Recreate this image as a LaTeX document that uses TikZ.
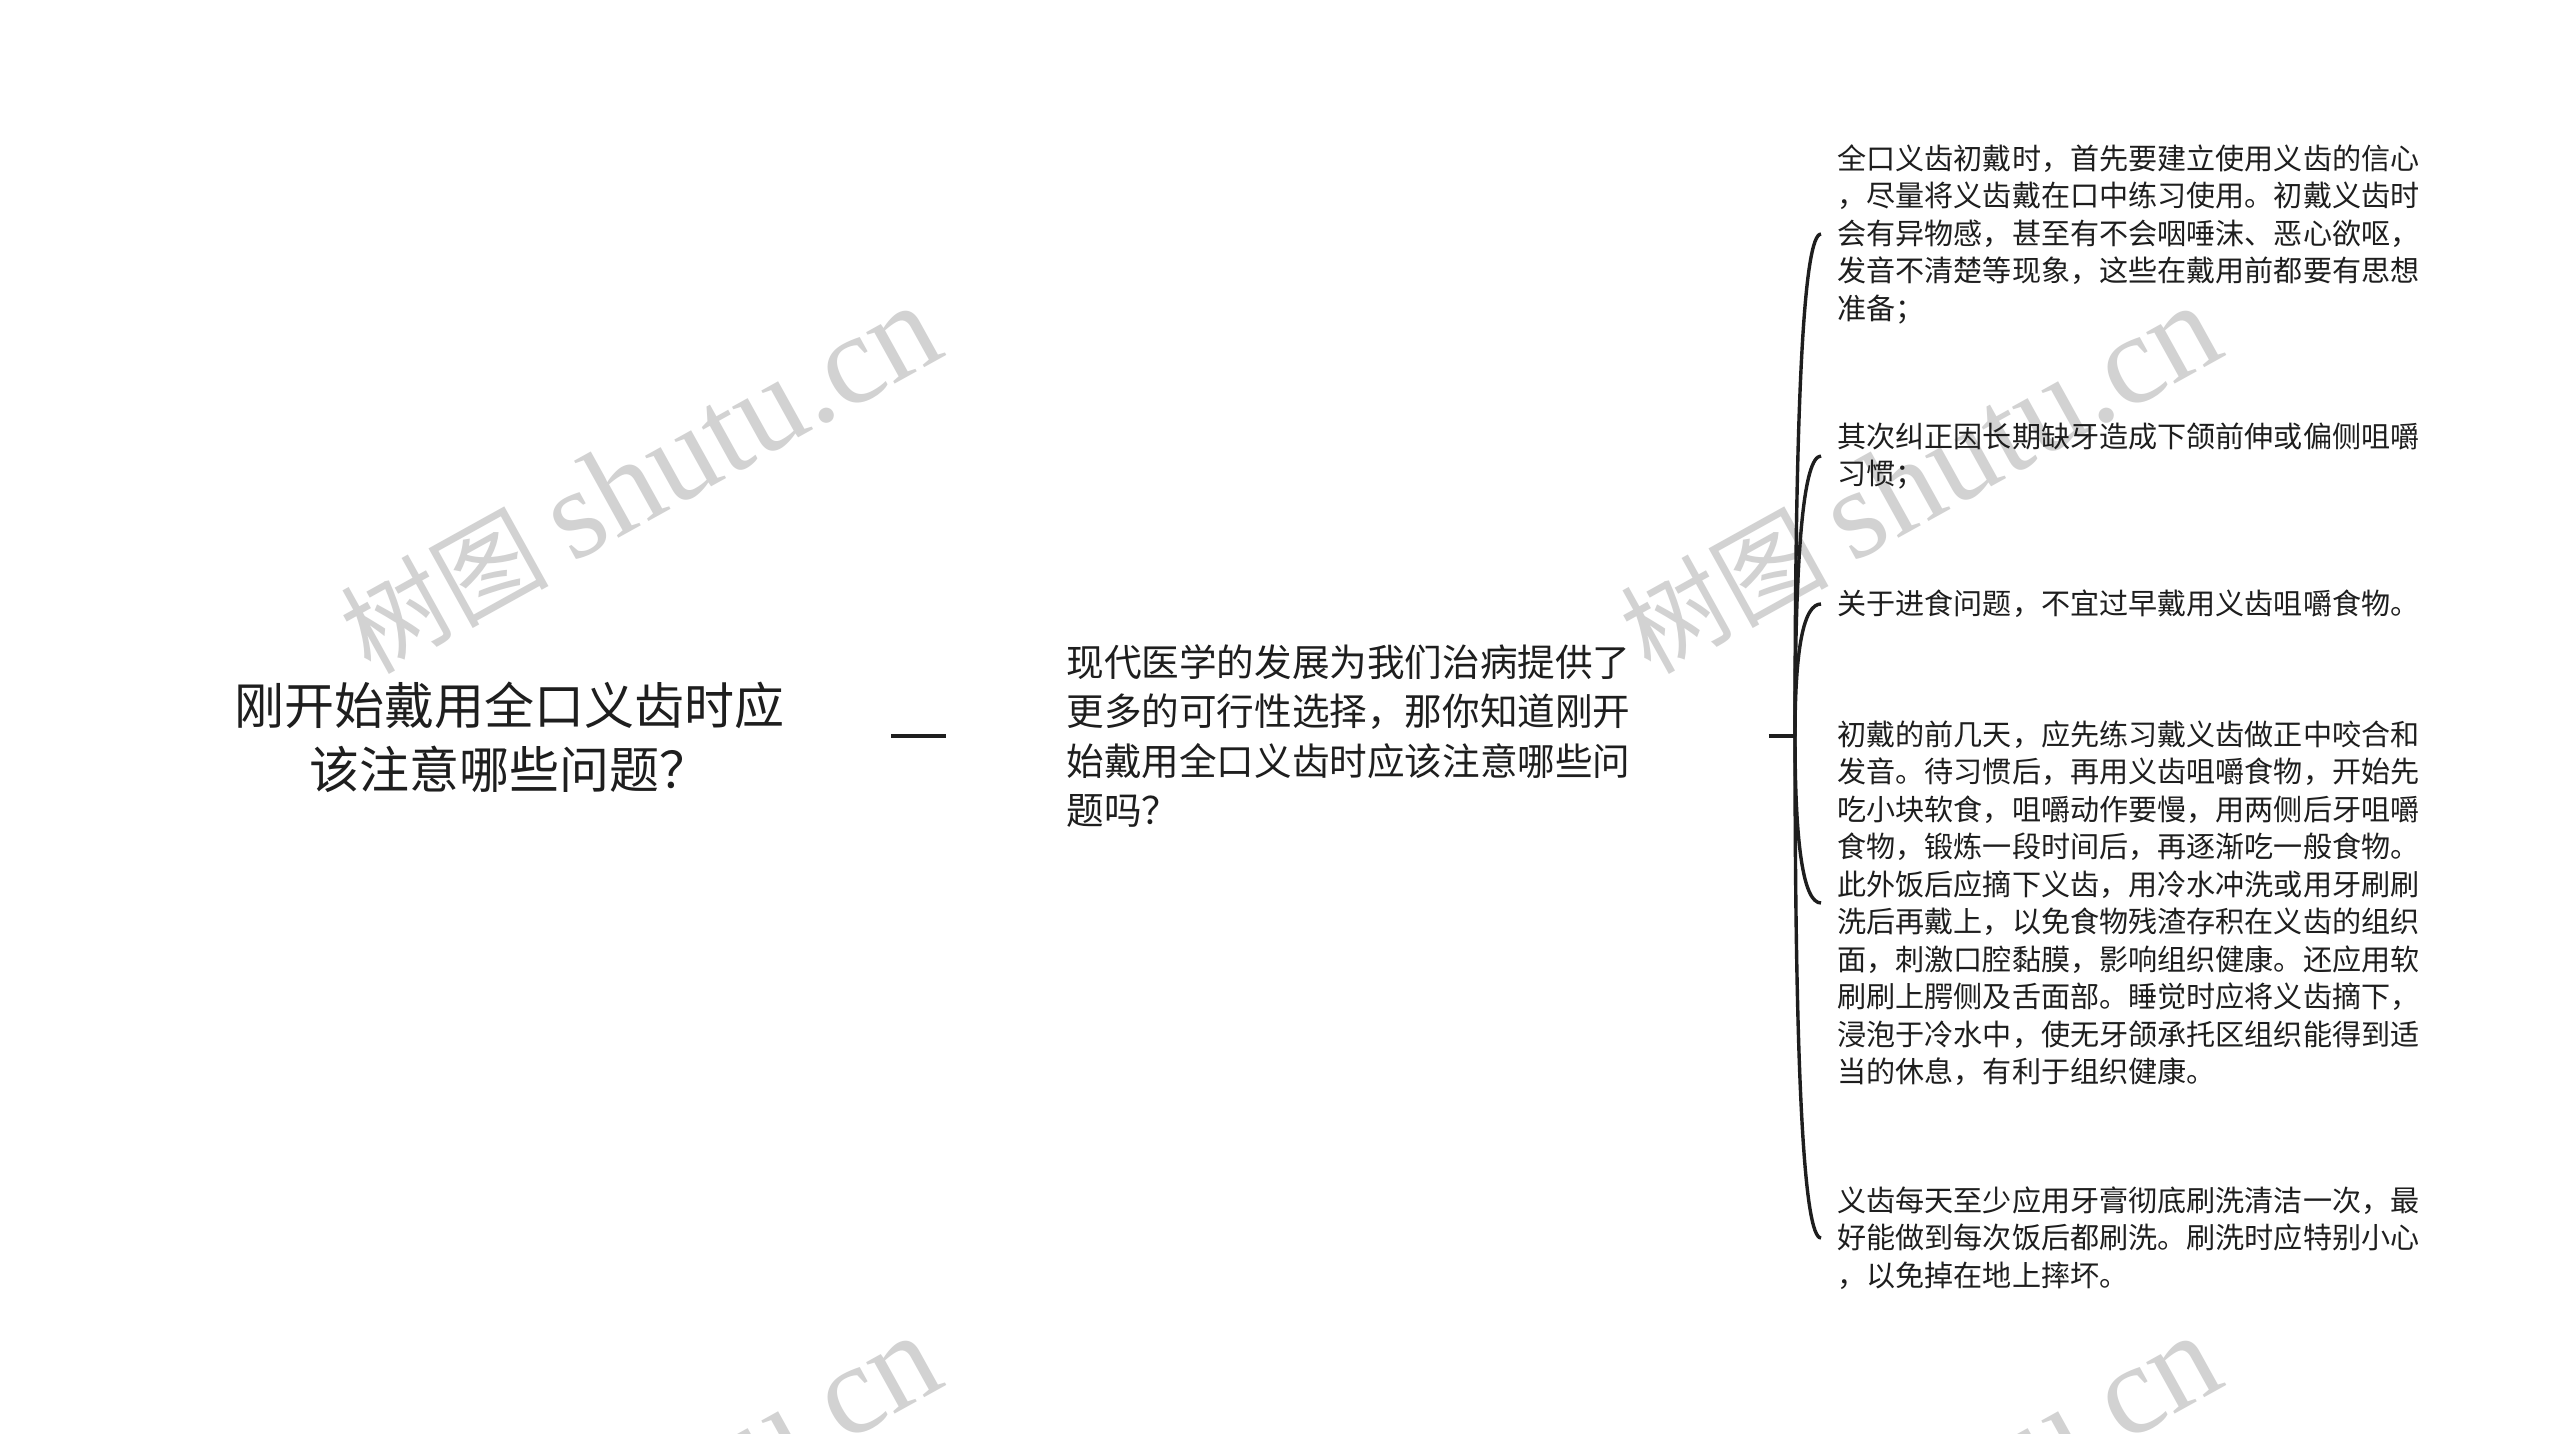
\documentclass[tikz,border=0pt]{standalone}
\usepackage{fontspec}
\setmainfont{Noto Sans CJK SC}
\newfontfamily\wmlatin{Liberation Serif}
\newfontfamily\wmcjk{Noto Sans CJK SC}
\usetikzlibrary{calc}
\definecolor{ink}{RGB}{30,30,30}
\definecolor{wm}{RGB}{210,210,210}
\begin{document}
\begin{tikzpicture}[x=0.5pt,y=-0.5pt,
  roottext/.style={font=\fontsize{25}{32}\selectfont, align=center, inner sep=0pt, text=ink},
  midtext/.style={font=\fontsize{18.8}{24.8}\selectfont, align=left, inner sep=0pt, anchor=west, text=ink},
  leaftext/.style={font=\fontsize{14.55}{18.75}\selectfont, align=left, inner sep=0pt, anchor=west, text=ink},
  conn/.style={draw=ink, line width=1.7pt},
  wmark/.style={text=wm, rotate=29, inner sep=0pt}]
\useasboundingbox (0,0) rectangle (2560,1434);
\fill[white] (0,0) rectangle (2560,1434);
% watermarks
\node[wmark] (w1) at (640,480) {\fontsize{52}{52}\selectfont\wmcjk 树图 \fontsize{64}{64}\selectfont\wmlatin shutu.cn};
\node[wmark] (w2) at (1920,480) {\fontsize{52}{52}\selectfont\wmcjk 树图 \fontsize{64}{64}\selectfont\wmlatin shutu.cn};
\node[wmark] (w3) at (640,1510) {\fontsize{52}{52}\selectfont\wmcjk 树图 \fontsize{64}{64}\selectfont\wmlatin shutu.cn};
\node[wmark] (w4) at (1920,1510) {\fontsize{52}{52}\selectfont\wmcjk 树图 \fontsize{64}{64}\selectfont\wmlatin shutu.cn};
% main nodes
\node[roottext] (root) at (509,737) {刚开始戴用全口义齿时应\\该注意哪些问题？};
\node[midtext] (mid) at (1066,736) {现代医学的发展为我们治病提供了\\更多的可行性选择，那你知道刚开\\始戴用全口义齿时应该注意哪些问\\题吗？};
\coordinate (J) at (1795,736);
\draw[conn, line width=2.2pt] ([xshift=53.5pt,yshift=0.5pt]root.east) -- ([xshift=-60pt]mid.west);
\draw[conn] ([xshift=69pt]mid.east) -- (J);
% leaves
\node[leaftext] (l1) at (1837,234) {全口义齿初戴时，首先要建立使用义齿的信心\\，尽量将义齿戴在口中练习使用。初戴义齿时\\会有异物感，甚至有不会咽唾沫、恶心欲呕，\\发音不清楚等现象，这些在戴用前都要有思想\\准备；};
\node[leaftext] (l2) at (1837,456) {其次纠正因长期缺牙造成下颌前伸或偏侧咀嚼\\习惯；};
\node[leaftext] (l3) at (1837,604) {关于进食问题，不宜过早戴用义齿咀嚼食物。};
\node[leaftext] (l4) at (1837,903) {初戴的前几天，应先练习戴义齿做正中咬合和\\发音。待习惯后，再用义齿咀嚼食物，开始先\\吃小块软食，咀嚼动作要慢，用两侧后牙咀嚼\\食物，锻炼一段时间后，再逐渐吃一般食物。\\此外饭后应摘下义齿，用冷水冲洗或用牙刷刷\\洗后再戴上，以免食物残渣存积在义齿的组织\\面，刺激口腔黏膜，影响组织健康。还应用软\\刷刷上腭侧及舌面部。睡觉时应将义齿摘下，\\浸泡于冷水中，使无牙颌承托区组织能得到适\\当的休息，有利于组织健康。};
\node[leaftext] (l5) at (1837,1238) {义齿每天至少应用牙膏彻底刷洗清洁一次，最\\好能做到每次饭后都刷洗。刷洗时应特别小心\\，以免掉在地上摔坏。};
\foreach \i in {1,...,5}{
  \coordinate (e\i) at ([xshift=-8pt]l\i.west);
  \draw[conn] (J) .. controls ($(J)!0.667!(J|-e\i)$) and ($(e\i)!0.667!(J|-e\i)$) .. (e\i);
}
\end{tikzpicture}
\end{document}
